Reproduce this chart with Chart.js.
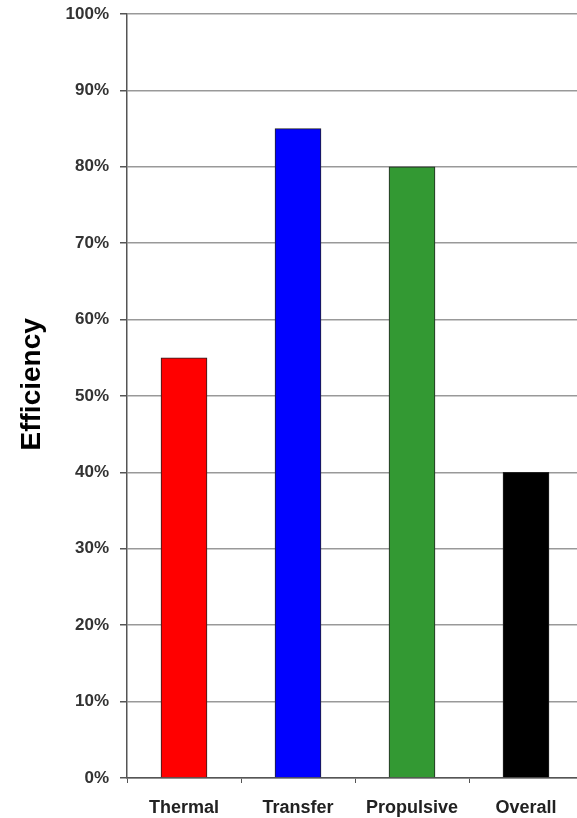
<!DOCTYPE html>
<html><head><meta charset="utf-8">
<script src="https://cdn.jsdelivr.net/npm/chart.js@4"></script>
<style>
html,body{margin:0;padding:0;overflow:hidden;background:#fff;width:577px;height:818px}
#wrap{position:relative;width:600px;height:818px}
</style></head>
<body><div id="wrap"><canvas id="c"></canvas></div>
<script>
const categories = ["Thermal", "Transfer", "Propulsive", "Overall"];
const efficiency = [55, 85, 80, 40];
const barColors = ["#ff0000", "#0000ff", "#339933", "#000000"];
const yTickValues = [0, 10, 20, 30, 40, 50, 60, 70, 80, 90, 100];
const yTitle = "   Efficiency";

const FONT = "'Liberation Sans', Arial, sans-serif";

new Chart(document.getElementById('c'), {
  type: 'bar',
  data: {
    labels: categories,
    datasets: [{
      data: efficiency,
      backgroundColor: barColors,
      borderColor: '#222',
      borderWidth: 1,
      barThickness: 46
    }]
  },
  options: {
    responsive: true,
    maintainAspectRatio: false,
    animation: false,
    devicePixelRatio: 1,
    layout: { padding: { top: 14, right: 17, bottom: 0, left: 0 } },
    plugins: { legend: { display: false }, tooltip: { enabled: false } },
    scales: {
      x: {
        offset: true,
        grid: { offset: true, drawOnChartArea: false, drawTicks: true, tickLength: 5, color: '#555', lineWidth: 1 },
        border: { color: '#555', width: 1.5 },
        ticks: { color: '#222', font: { family: FONT, size: 18, weight: 'bold' }, padding: 14, maxRotation: 0 },
        afterFit: s => { s.height = 40; s.paddingLeft = 0; s.paddingRight = 0; }
      },
      y: {
        min: 0, max: 100,
        afterBuildTicks: s => { s.ticks = yTickValues.map(v => ({ value: v })); },
        ticks: { color: '#333', font: { family: FONT, size: 17, weight: 'bold' }, padding: 11, callback: v => v + '%' },
        grid: { color: '#999', lineWidth: 1.5, tickColor: '#555', tickLength: 7 },
        border: { color: '#555', width: 1.5 },
        title: { display: true, text: yTitle, color: '#000', font: { family: FONT, size: 28, weight: 'bold' }, padding: { top: 15, bottom: 0 } },
        afterFit: s => { s.width = 127; s.paddingTop = 0; s.paddingBottom = 0; }
      }
    }
  }
});
</script>
</body></html>
